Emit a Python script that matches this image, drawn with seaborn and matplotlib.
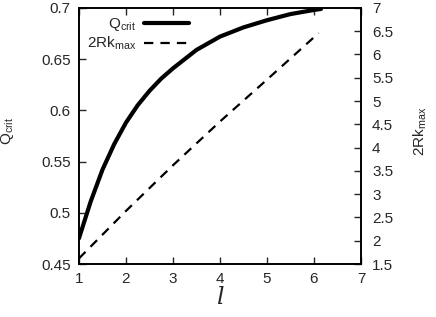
import matplotlib
matplotlib.use("Agg")
import matplotlib.pyplot as plt
import seaborn as sns
import pandas as pd

# Data
l_q = [1.0, 1.25, 1.5, 1.75, 2.0, 2.25, 2.5, 2.75, 3.0, 3.5, 4.0, 4.5, 5.0, 5.5, 6.0, 6.15]
q_crit = [0.475, 0.511, 0.542, 0.567, 0.588, 0.605, 0.619, 0.631, 0.641, 0.659, 0.672, 0.681, 0.688, 0.694, 0.698, 0.699]

l_k = [1.0, 2.0, 3.0, 4.0, 5.0, 6.0, 6.1]
two_rk_max = [1.62, 2.64, 3.62, 4.56, 5.46, 6.37, 6.46]

x_ticks = [1, 2, 3, 4, 5, 6, 7]
y_ticks = [0.45, 0.5, 0.55, 0.6, 0.65, 0.7]
y_tick_labels = ["0.45", "0.5", "0.55", "0.6", "0.65", "0.7"]
y2_ticks = [1.5, 2, 2.5, 3, 3.5, 4, 4.5, 5, 5.5, 6, 6.5, 7]
y2_tick_labels = ["1.5", "2", "2.5", "3", "3.5", "4", "4.5", "5", "5.5", "6", "6.5", "7"]

df_q = pd.DataFrame({"l": l_q, "Q": q_crit})
df_k = pd.DataFrame({"l": l_k, "K": two_rk_max})

sns.set_style("ticks")
plt.rcParams["font.family"] = ["Liberation Sans", "DejaVu Sans"]
plt.rcParams["mathtext.fontset"] = "custom"
plt.rcParams["mathtext.rm"] = "Liberation Sans"
plt.rcParams["mathtext.it"] = "Liberation Sans:italic"

fig = plt.figure(figsize=(4.36, 3.17), dpi=100)
ax = fig.add_axes([0.181, 0.167, 0.647, 0.808])
ax2 = ax.twinx()

sns.lineplot(data=df_q, x="l", y="Q", ax=ax, color="black", linewidth=3.0,
             label=r"Q$_{\rm crit}$", legend=False)
sns.lineplot(data=df_k, x="l", y="K", ax=ax2, color="black", linewidth=1.6,
             linestyle=(0, (4.2, 3.2)), label=r"2Rk$_{\rm max}$", legend=False)

ax.set_xlim(1, 7)
ax.set_ylim(0.45, 0.7)
ax2.set_ylim(1.5, 7)
ax.set_xticks(x_ticks)
ax.set_xticklabels([str(t) for t in x_ticks])
ax.set_yticks(y_ticks)
ax.set_yticklabels(y_tick_labels)
ax2.set_yticks(y2_ticks)
ax2.set_yticklabels(y2_tick_labels)

for a in (ax, ax2):
    for s in a.spines.values():
        s.set_visible(True)
        s.set_linewidth(1.2)
        s.set_color("black")

ax.tick_params(axis="x", direction="in", top=True, bottom=True, length=5, width=1,
               labelsize=11, pad=6)
ax.tick_params(axis="y", direction="in", left=True, right=False, length=5, width=1,
               labelsize=11, pad=6)
ax2.tick_params(axis="y", direction="in", right=True, length=5, width=1,
                labelsize=11, pad=8)

ax.set_xlabel("l", fontsize=17, fontstyle="italic", family=["DejaVu Serif"], labelpad=0)
ax.set_ylabel(r"Q$_{\rm crit}$", fontsize=11)
ax2.set_ylabel(r"2Rk$_{\rm max}$", fontsize=11)
ax.yaxis.set_label_coords(-0.222, 0.52)
ax2.yaxis.set_label_coords(1.18, 0.52)

h1, l1 = ax.get_legend_handles_labels()
h2, l2 = ax2.get_legend_handles_labels()
leg = ax2.legend(h1 + h2, l1 + l2, loc="upper left", frameon=False, markerfirst=False,
                 fontsize=11, handlelength=2.9, handletextpad=0.5, labelspacing=0.1,
                 borderaxespad=0.15, bbox_to_anchor=(0.0, 1.0))

fig.savefig("out.png", dpi=100)
